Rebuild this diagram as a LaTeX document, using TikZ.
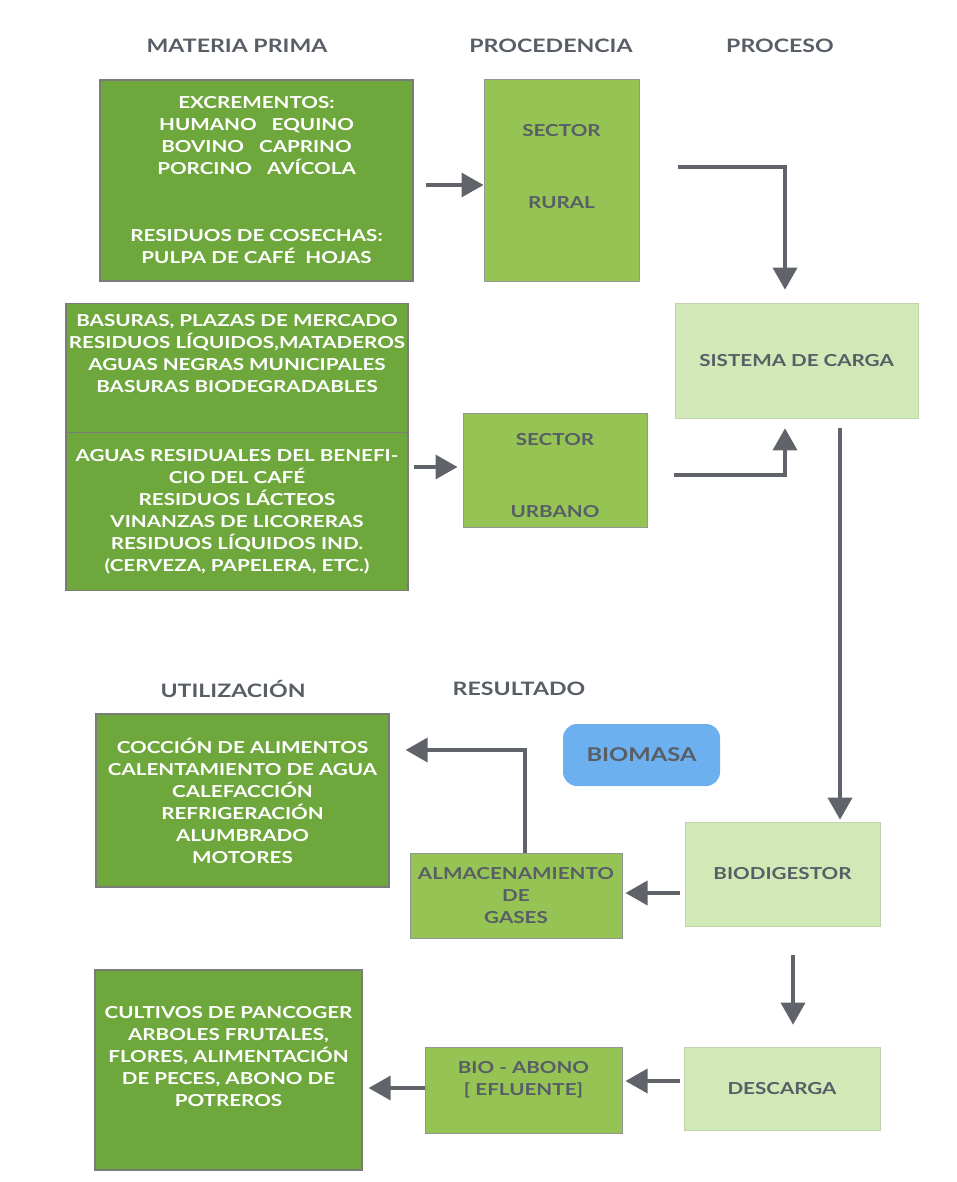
\documentclass[tikz,border=0pt]{standalone}
\usepackage{fontspec}
\setmainfont{Lato}[FakeStretch=1.25]
\usetikzlibrary{arrows.meta,positioning,calc}
\definecolor{dgreen}{RGB}{110,168,60}
\definecolor{mgreen}{RGB}{150,196,84}
\definecolor{lgreen}{RGB}{208,233,182}
\definecolor{bblue}{RGB}{108,176,240}
\definecolor{tgray}{RGB}{88,94,102}
\definecolor{agray}{RGB}{96,99,106}
\definecolor{bgray}{RGB}{120,125,120}
\begin{document}
\begin{tikzpicture}[x=1pt,y=-1pt,
  base/.style={rectangle,inner sep=0pt,align=center,font=\fontsize{16.5}{22}\selectfont\bfseries},
  dbox/.style={base,fill=dgreen,draw=bgray,line width=1.2pt,text=white},
  mbox/.style={base,fill=mgreen,draw=bgray!80,line width=1pt,text=tgray},
  lbox/.style={base,fill=lgreen,draw=lgreen!80!gray,line width=0.6pt,text=tgray},
  head/.style={font=\fontsize{18.5}{22}\selectfont\bfseries,text=tgray},
  arr/.style={draw=agray,line width=3.5pt,-{Triangle[length=22pt,width=24pt]}}]
\useasboundingbox (0,0) rectangle (956,1182);
% headings
\node[head] (h1) at (237,46) {MATERIA PRIMA};
\node[head] (h2) at (551,46) {PROCEDENCIA};
\node[head] (h3) at (780,46) {PROCESO};
\node[head] (h4) at (233,689) {UTILIZACIÓN};
\node[head] (h5) at (519,689) {RESULTADO};
% boxes
\node[dbox,minimum width=313pt,minimum height=201pt] (mp) at (256.5,180.5)
 {EXCREMENTOS:\\ HUMANO\ \ \ EQUINO\\ BOVINO\ \ \ CAPRINO\\ PORCINO\ \ \ AVÍCOLA\\[45pt] RESIDUOS DE COSECHAS:\\ PULPA DE CAFÉ\ \ HOJAS};
\node[mbox,minimum width=155pt,minimum height=201pt] (rural) at (561.5,180.5) {SECTOR\\[50pt] RURAL\\[6pt]\mbox{}};
\node[lbox,minimum width=243pt,minimum height=115pt] (sis) at (796.5,360.5) {SISTEMA DE CARGA};
\node[dbox,minimum width=342pt,minimum height=129pt,anchor=north] (b2a) at (237,303)
 {BASURAS, PLAZAS DE MERCADO\\ RESIDUOS LÍQUIDOS,MATADEROS\\ AGUAS NEGRAS MUNICIPALES\\ BASURAS BIODEGRADABLES\\[7pt]\mbox{}};
\node[dbox,minimum width=342pt,minimum height=158pt,anchor=north] (b2b) at (237,432)
 {AGUAS RESIDUALES DEL BENEFI-\\ CIO DEL CAFÉ\\ RESIDUOS LÁCTEOS\\ VINANZAS DE LICORERAS\\ RESIDUOS LÍQUIDOS IND.\\ (CERVEZA, PAPELERA, ETC.)};
\node[mbox,minimum width=184pt,minimum height=114pt] (urb) at (555,470) {\mbox{}\\[2pt]SECTOR\\[50pt] URBANO};
\node[base,fill=bblue,rounded corners=14pt,minimum width=157pt,minimum height=62pt,text=tgray,font=\fontsize{19}{22}\selectfont\bfseries] (biom) at (641.5,755) {BIOMASA};
\node[dbox,minimum width=293pt,minimum height=173pt] (uso1) at (242.5,800.5)
 {COCCIÓN DE ALIMENTOS\\ CALENTAMIENTO DE AGUA\\ CALEFACCIÓN\\ REFRIGERACIÓN\\ ALUMBRADO\\ MOTORES};
\node[mbox,minimum width=212pt,minimum height=85pt] (alm) at (516,895.5) {ALMACENAMIENTO\\ DE\\ GASES};
\node[lbox,minimum width=195pt,minimum height=104pt] (bio) at (782.5,874) {BIODIGESTOR};
\node[lbox,minimum width=196pt,minimum height=83pt] (des) at (782,1088.5) {DESCARGA};
\node[mbox,minimum width=197pt,minimum height=86pt] (abo) at (523.5,1090) {BIO - ABONO\\ {[} EFLUENTE{]}\\[2pt]\mbox{}};
\node[dbox,minimum width=267pt,minimum height=200pt] (uso2) at (228.5,1070)
 {CULTIVOS DE PANCOGER\\ ARBOLES FRUTALES,\\ FLORES, ALIMENTACIÓN\\ DE PECES, ABONO DE\\ POTREROS\\[6pt]\mbox{}};
% connectors
\draw[arr] ([xshift=12pt]mp.east |- 0,185) -- (rural.west |- 0,185);
\draw[arr,shorten >=13pt] ([xshift=38pt]rural.east |- 0,167) -| ([xshift=-11.5pt]sis.north);
\draw[arr] ([xshift=5pt]b2b.east |- 0,467) -- ([xshift=-5pt]urb.west |- 0,467);
\draw[arr,shorten >=10pt] ([xshift=26pt]urb.east |- 0,475) -| ([xshift=-11.5pt]sis.south);
\draw[arr,shorten <=10pt,shorten >=2pt] ([xshift=43.5pt]sis.south) -- ([xshift=57.5pt]bio.north);
\draw[arr,shorten <=5pt,shorten >=3pt] (bio.west |- 0,893) -- (alm.east |- 0,893);
\draw[arr,shorten >=16pt] ([xshift=9pt]alm.north) |- (uso1.east |- 0,750);
\draw[arr,shorten <=29pt,shorten >=22pt] ([xshift=10.5pt]bio.south) -- ([xshift=11pt]des.north);
\draw[arr,shorten <=4pt,shorten >=3pt] (des.west |- 0,1081) -- (abo.east |- 0,1081);
\draw[arr,shorten >=6pt] (abo.west |- 0,1088) -- (uso2.east |- 0,1088);
\end{tikzpicture}
\end{document}
